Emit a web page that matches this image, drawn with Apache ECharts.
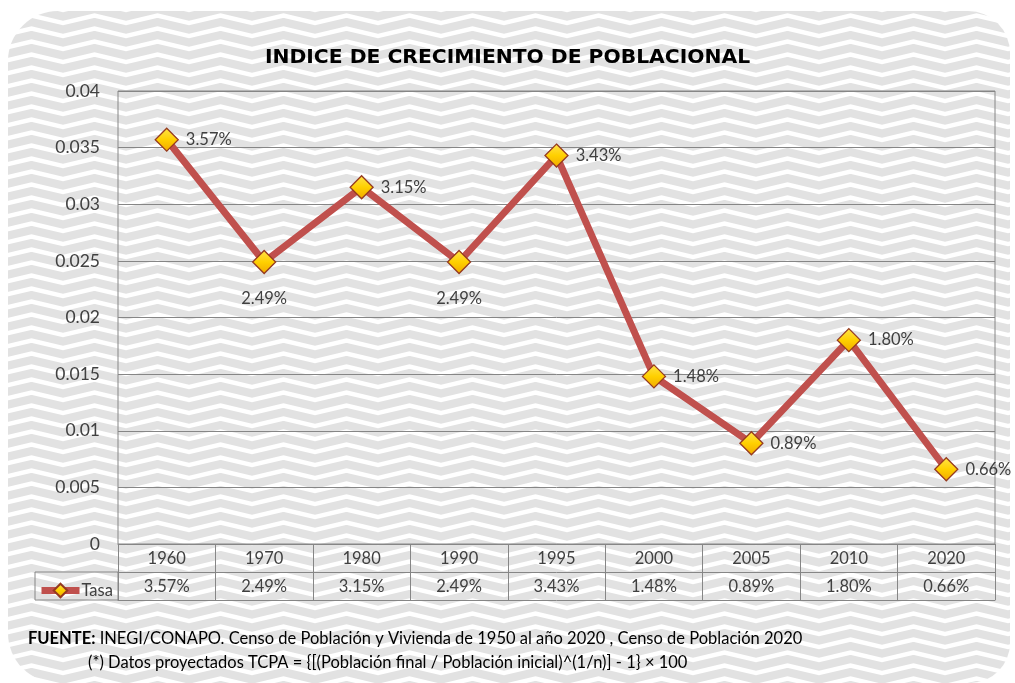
<!DOCTYPE html>
<html>
<head>
<meta charset="utf-8">
<script src="https://cdn.jsdelivr.net/npm/echarts@6/dist/echarts.min.js"></script>
<style>
  html, body { margin: 0; padding: 0; background: #fff; }
  #chart { width: 1015px; height: 683px; }
</style>
</head>
<body>
<div id="chart"></div>
<script>
// datos
const years = ['1960', '1970', '1980', '1990', '1995', '2000', '2005', '2010', '2020'];
const tasa = [0.0357, 0.0249, 0.0315, 0.0249, 0.0343, 0.0148, 0.0089, 0.0180, 0.0066];
const seriesName = 'Tasa';
const titulo = 'INDICE DE CRECIMIENTO DE POBLACIONAL';
const fuente = 'INEGI/CONAPO. Censo de Población y Vivienda de 1950 al año 2020 , Censo de Población 2020';
const nota = '(*) Datos proyectados TCPA = {[(Población final / Población inicial)^(1/n)] - 1} × 100';

const fmt = v => (v * 100).toFixed(2) + '%';
const textColor = '#404040';
const lineGray = '#868686';
const font = 'Lato';

// fondo en zigzag
function zigzag() {
    const c = document.createElement('canvas');
    c.width = 63; c.height = 13;
    const g = c.getContext('2d');
    g.fillStyle = '#e2e2e2';
    g.fillRect(0, 0, 63, 13);
    g.strokeStyle = '#ffffff';
    g.lineWidth = 4.5;
    [-13, 0, 13].forEach(dy => {
        g.beginPath();
        g.moveTo(-2, 10.5 + dy);
        g.lineTo(31.5, 2.5 + dy);
        g.lineTo(65, 10.5 + dy);
        g.stroke();
    });
    return c;
}

const below = [1, 3]; // etiquetas debajo del punto

const chart = echarts.init(document.getElementById('chart'));
chart.setOption({
    backgroundColor: '#fff',
    animation: false,
    title: [{
        text: titulo,
        left: 'center',
        top: 43,
        textStyle: { fontFamily: 'DejaVu Sans', fontWeight: 'bold', fontSize: 20.3, color: '#000' }
    }, {
        text: '{b|FUENTE:}{n| ' + fuente + '}',
        left: 23,
        top: 625,
        textStyle: {
            fontWeight: 'normal',
            rich: {
                b: { fontFamily: font, fontWeight: 'bold', fontSize: 16.5, color: '#000' },
                n: { fontFamily: font, fontWeight: 'normal', fontSize: 16.5, color: '#000' }
            }
        }
    }, {
        text: nota,
        left: 83,
        top: 649,
        textStyle: { fontFamily: font, fontWeight: 'normal', fontSize: 16.5, color: '#000' }
    }],
    graphic: [{
        type: 'rect',
        z: -10,
        silent: true,
        shape: { x: 8, y: 11, width: 1002, height: 672, r: [50, 42, 40, 50] },
        style: { fill: { image: zigzag(), repeat: 'repeat' } }
    }, {
        type: 'rect',
        z: 10,
        silent: true,
        shape: { x: 35, y: 572, width: 83, height: 28 },
        style: { fill: null, stroke: lineGray, lineWidth: 1 }
    }],
    legend: {
        left: 33,
        top: 577,
        itemWidth: 38,
        itemHeight: 17,
        itemGap: 5,
        lineStyle: { width: 7, color: '#c0504d' },
        textStyle: { fontFamily: font, fontSize: 16.5, color: textColor, padding: [0, 0, 0, -3] },
        data: [seriesName]
    },
    grid: {
        left: 118, right: 20, top: 91, bottom: 139,
        show: true, borderColor: lineGray, borderWidth: 1,
        outerBoundsMode: 'none'
    },
    xAxis: [{
        type: 'category',
        data: years,
        boundaryGap: true,
        axisLine: { lineStyle: { color: lineGray } },
        axisTick: { show: true, length: 56, interval: 0, lineStyle: { color: lineGray } },
        axisLabel: { interval: 0, margin: 6, fontFamily: font, fontSize: 16.5, color: textColor }
    }, {
        type: 'category',
        data: tasa.map(fmt),
        position: 'bottom',
        offset: 28,
        axisLine: { lineStyle: { color: lineGray } },
        axisTick: { show: false },
        axisLabel: { interval: 0, margin: 6, fontFamily: font, fontSize: 16.5, color: textColor }
    }, {
        type: 'category',
        data: years,
        position: 'bottom',
        offset: 56,
        axisLine: { lineStyle: { color: lineGray } },
        axisTick: { show: false },
        axisLabel: { show: false }
    }],
    yAxis: {
        type: 'value',
        min: 0,
        max: 0.04,
        interval: 0.005,
        axisLine: { show: false },
        axisTick: { show: false },
        axisLabel: { margin: 18, fontFamily: font, fontSize: 17.5, color: textColor },
        splitLine: { lineStyle: { color: lineGray } }
    },
    series: [{
        name: seriesName,
        type: 'line',
        xAxisIndex: 0,
        data: tasa.map((v, i) => ({
            value: v,
            label: below.includes(i) ? { position: 'bottom', distance: 16 } : undefined
        })),
        symbol: 'diamond',
        symbolSize: 23,
        lineStyle: { width: 7, color: '#c0504d' },
        itemStyle: {
            color: new echarts.graphic.LinearGradient(0, 0, 0, 1, [
                { offset: 0, color: '#ffe34d' },
                { offset: 0.5, color: '#ffd000' },
                { offset: 1, color: '#f0a800' }
            ]),
            borderColor: '#953a20',
            borderWidth: 1.3
        },
        label: {
            show: true,
            position: 'right',
            distance: 7,
            formatter: p => fmt(p.value),
            fontFamily: font,
            fontSize: 16.5,
            color: textColor
        },
        z: 3
    }]
});
</script>
</body>
</html>
